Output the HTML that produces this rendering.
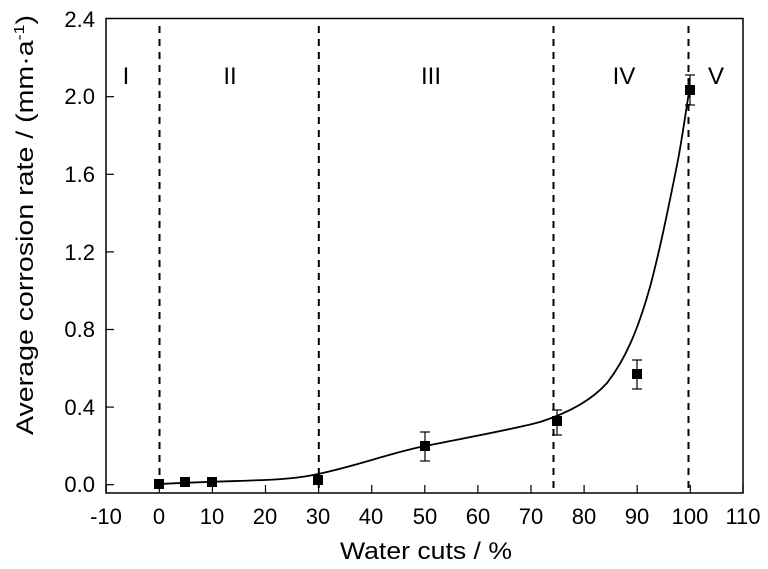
<!DOCTYPE html>
<html><head><meta charset="utf-8"><style>
html,body{margin:0;padding:0;background:#fff;}
svg{display:block;font-family:"Liberation Sans",Arial,sans-serif;}
</style></head><body>
<svg width="768" height="569" viewBox="0 0 768 569" xmlns="http://www.w3.org/2000/svg">
<rect x="106" y="18.5" width="637" height="474.5" fill="none" stroke="#000" stroke-width="1.5"/>
<g stroke="#000" stroke-width="1.2">
<line x1="106.2" y1="493" x2="106.2" y2="485"/>
<line x1="159.3" y1="493" x2="159.3" y2="485"/>
<line x1="212.4" y1="493" x2="212.4" y2="485"/>
<line x1="265.5" y1="493" x2="265.5" y2="485"/>
<line x1="318.6" y1="493" x2="318.6" y2="485"/>
<line x1="371.7" y1="493" x2="371.7" y2="485"/>
<line x1="424.8" y1="493" x2="424.8" y2="485"/>
<line x1="477.9" y1="493" x2="477.9" y2="485"/>
<line x1="531" y1="493" x2="531" y2="485"/>
<line x1="584.1" y1="493" x2="584.1" y2="485"/>
<line x1="637.2" y1="493" x2="637.2" y2="485"/>
<line x1="690.3" y1="493" x2="690.3" y2="485"/>
<line x1="743" y1="493" x2="743" y2="485"/>
<line x1="106" y1="484.7" x2="114" y2="484.7"/>
<line x1="106" y1="407.1" x2="114" y2="407.1"/>
<line x1="106" y1="329.5" x2="114" y2="329.5"/>
<line x1="106" y1="251.9" x2="114" y2="251.9"/>
<line x1="106" y1="174.3" x2="114" y2="174.3"/>
<line x1="106" y1="96.7" x2="114" y2="96.7"/>
</g>
<g font-size="22" text-anchor="middle" fill="#000">
<text x="106" y="524">-10</text><text x="159" y="524">0</text><text x="212" y="524">10</text>
<text x="265" y="524">20</text><text x="318" y="524">30</text><text x="371" y="524">40</text>
<text x="425" y="524">50</text><text x="478" y="524">60</text><text x="531" y="524">70</text>
<text x="584" y="524">80</text><text x="637" y="524">90</text><text x="690" y="524">100</text>
<text x="743" y="524">110</text>
</g>
<g font-size="22" text-anchor="end" fill="#000">
<text x="95" y="492">0.0</text><text x="95" y="415">0.4</text><text x="95" y="337">0.8</text>
<text x="95" y="260">1.2</text><text x="95" y="182">1.6</text><text x="95" y="104">2.0</text>
<text x="95" y="27">2.4</text>
</g>
<text x="340" y="559" font-size="24" textLength="172" lengthAdjust="spacingAndGlyphs">Water cuts / %</text>
<text transform="translate(33,435) rotate(-90)" font-size="24" textLength="420" lengthAdjust="spacingAndGlyphs">Average corrosion rate / (mm·a<tspan dy="-9" font-size="15">-1</tspan><tspan dy="9">)</tspan></text>
<g stroke="#000" stroke-width="2" stroke-dasharray="7,6">
<line x1="159.5" y1="26" x2="159.5" y2="493"/>
<line x1="318.8" y1="26" x2="318.8" y2="493"/>
<line x1="553.5" y1="26" x2="553.5" y2="493"/>
<line x1="688.5" y1="26" x2="688.5" y2="493"/>
</g>
<g font-size="24" text-anchor="middle">
<text x="126" y="84">I</text><text x="230" y="84">II</text><text x="431" y="84">III</text>
<text x="624" y="84">IV</text><text x="716" y="84">V</text>
</g>
<path d="M159,484 C200,482 240,481 265,480 C290,479 305,477 318,474 C360,465 390,453 425,446 C470,437 510,430 540,422 C565,414 590,402 607,383 C625,360 638,330 650,287 C660,250 670,200 678,160 C683,133 686,110 689,92" fill="none" stroke="#000" stroke-width="1.8"/>
<g stroke="#000" stroke-width="1.2">
<line x1="425" y1="432" x2="425" y2="461"/><line x1="420" y1="432" x2="430" y2="432"/><line x1="420" y1="461" x2="430" y2="461"/>
<line x1="557" y1="410" x2="557" y2="435"/><line x1="552" y1="410" x2="562" y2="410"/><line x1="552" y1="435" x2="562" y2="435"/>
<line x1="637" y1="360" x2="637" y2="389"/><line x1="632" y1="360" x2="642" y2="360"/><line x1="632" y1="389" x2="642" y2="389"/>
<line x1="690" y1="75" x2="690" y2="105"/><line x1="685" y1="75" x2="695" y2="75"/><line x1="685" y1="105" x2="695" y2="105"/>
</g>
<g fill="#000">
<rect x="154" y="479" width="10" height="10"/>
<rect x="180" y="477" width="10" height="10"/>
<rect x="207" y="477" width="10" height="10"/>
<rect x="313" y="475" width="10" height="10"/>
<rect x="420" y="441" width="10" height="10"/>
<rect x="552" y="416" width="10" height="10"/>
<rect x="632" y="369" width="10" height="10"/>
<rect x="685" y="85" width="10" height="10"/>
</g>
</svg>
</body></html>
